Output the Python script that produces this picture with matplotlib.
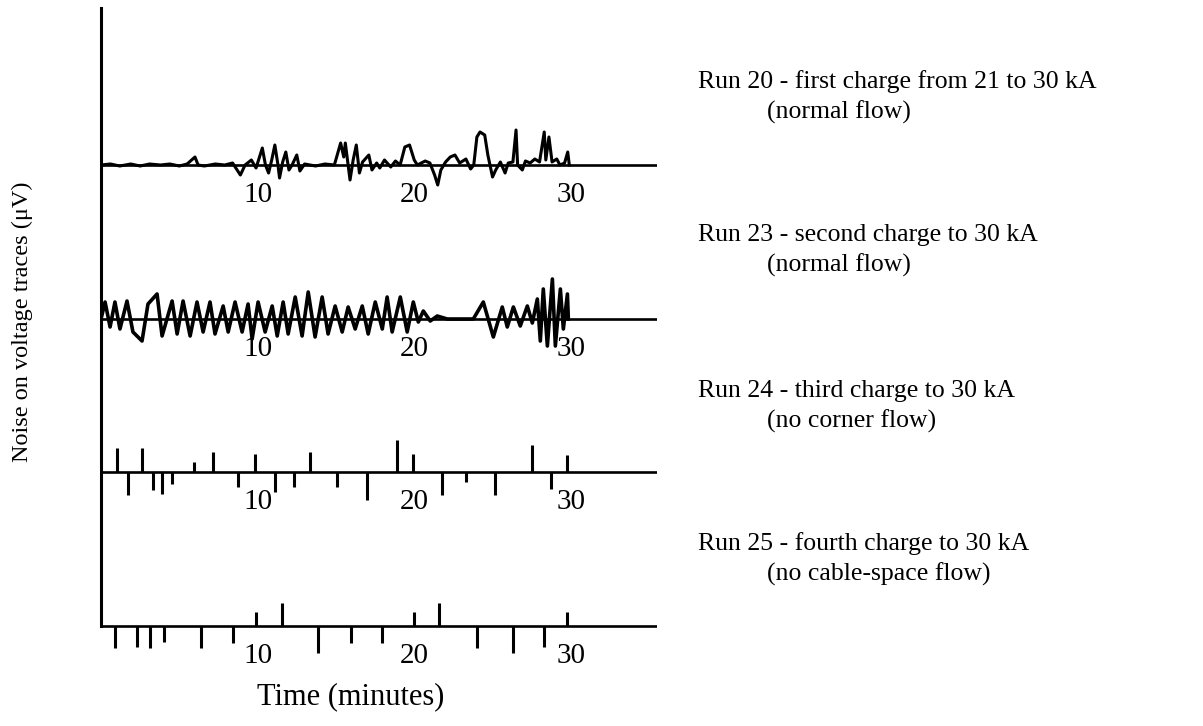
import matplotlib

matplotlib.use("Agg")

import matplotlib.pyplot as plt
import numpy as np

# time in minutes, noise amplitude in arbitrary trace units
run20_t = [0.0, 0.6, 1.2, 1.9, 2.5, 3.1, 3.8, 4.4, 5.0, 5.5, 6.0, 6.2, 6.6, 7.3,
           7.9, 8.4, 8.9, 9.2, 9.6, 9.9, 10.3, 10.5, 10.7, 10.9, 11.1, 11.3,
           11.4, 11.6, 11.8, 12.0, 12.2, 12.5, 12.7, 13.0, 13.7, 14.3, 14.9,
           15.3, 15.5, 15.6, 15.9, 16.1, 16.3, 16.5, 16.7, 17.1, 17.3, 17.6,
           17.8, 18.1, 18.5, 18.8, 19.1, 19.4, 19.7, 20.0, 20.2, 20.7, 21.0,
           21.3, 21.5, 21.7, 22.0, 22.3, 22.6, 22.9, 23.3, 23.6, 23.8, 24.0,
           24.2, 24.5, 24.7, 25.0, 25.2, 25.5, 25.8, 26.0, 26.3, 26.5, 26.6,
           26.9, 27.1, 27.4, 27.7, 28.0, 28.3, 28.4, 28.6, 28.8, 29.1, 29.3,
           29.6, 29.8, 29.9]
run20_v = [0, 1, -1, 1, -1, 1, 0, 1, -1, 1, 8, 0, -1, 1,
           0, 2, -10, 0, 5, -3, 17, 0, -8, 5, 20, 0,
           -13, 3, 13, -5, 0, 10, -6, 1, -1, 1, 0,
           22, 8, 22, -15, 5, 20, -8, 3, 10, -5, 2,
           -3, 5, -2, 4, 0, 18, 20, 5, 0, 4, 2,
           -10, -20, -5, 3, 8, 10, 2, 6, -4, 0, 28,
           33, 30, 10, -12, -5, 3, -8, 2, 3, 35, 0,
           -5, 4, 2, 6, 3, 33, 5, 28, 3, 6, 0,
           2, 13, 0]

run23_t = [0.0, 0.26, 0.58, 0.89, 1.21, 1.66, 2.04, 2.62, 3.00, 3.58, 3.90, 4.54,
           4.86, 5.24, 5.69, 6.13, 6.52, 6.96, 7.28, 7.80, 8.12, 8.56, 9.01,
           9.39, 9.65, 10.03, 10.48, 10.93, 11.25, 11.63, 11.95, 12.40, 12.84,
           13.23, 13.67, 14.12, 14.50, 14.95, 15.40, 15.78, 16.23, 16.68,
           17.06, 17.51, 17.96, 18.27, 18.59, 19.11, 19.55, 19.94, 20.26,
           20.58, 21.02, 21.47, 22.11, 23.77, 24.41, 25.05, 25.62, 25.94,
           26.33, 26.77, 27.22, 27.54, 27.86, 28.05, 28.24, 28.50, 28.82,
           29.01, 29.33, 29.52, 29.78, 29.84]
run23_v = [0, 17, -8, 17, -10, 18, -13, -22, 15, 25, -17, 18,
           -15, 18, -17, 17, -13, 17, -15, 13, -13, 17, -13,
           15, -20, 17, -13, 13, -17, 17, -15, 22, -17,
           27, -18, 22, -15, 13, -13, 12, -10, 13,
           -15, 17, -10, 22, -13, 22, -13, 17, -3,
           8, -2, 3, 0, 0, 17, -18, 12, -8,
           12, -7, 13, -4, 20, -22, 30, -27, 40,
           -27, 30, -10, 25, 0]

run24_t = [1.02, 1.73, 2.62, 3.32, 3.90, 4.54, 5.94, 7.16, 8.75, 9.84, 11.12,
           12.33, 13.35, 15.08, 17.0, 18.91, 19.94, 21.79, 23.32, 25.18, 27.54,
           28.75, 29.78]
run24_v = [24, -23, 24, -18, -22, -12, 10, 20, -15, 18, -20,
           -15, 20, -15, -28, 32, 18, -23, -10, -23, 27,
           -17, 17]

run25_t = [0.89, 2.30, 3.13, 4.03, 6.39, 8.43, 9.90, 11.57, 13.87, 15.97, 17.96,
           20.0, 21.6, 24.03, 26.33, 28.31, 29.78]
run25_v = [-22, -21, -22, -16, -22, -17, 14, 23, -27, -17, -17,
           14, 23, -22, -27, -21, 14]

labels_main = ["Run 20 - first charge from 21 to 30 kA",
               "Run 23 - second charge to 30 kA",
               "Run 24 - third charge to 30 kA",
               "Run 25 - fourth charge to 30 kA"]
labels_sub = ["(normal flow)", "(normal flow)", "(no corner flow)",
              "(no cable-space flow)"]
time_ticks = [10, 20, 30]

plt.rcParams["font.family"] = ["Liberation Serif", "DejaVu Serif"]

W, H = 1203, 726
fig = plt.figure(figsize=(W / 100, H / 100), dpi=100)
ax = fig.add_axes([101 / W, 1 - 671 / H, 556 / W, 663 / H])
ax.set_xlim(0, 35.5)
ax.set_ylim(-45, 618)
for side in ["top", "right", "bottom"]:
    ax.spines[side].set_visible(False)
ax.spines["left"].set_bounds(0, 618)
ax.spines["left"].set_linewidth(2.2)
ax.set_xticks([])
ax.set_yticks([])

# stacked baselines, top to bottom
offsets = [461, 307, 154, 0]
for base in offsets:
    ax.plot([0, 35.5], [base, base], color="black", lw=1.9, solid_capstyle="butt")
    for t in time_ticks:
        ax.text(t, base - 30, str(t), ha="center", va="center", fontsize=21, zorder=1)

ax.plot(run20_t, np.array(run20_v) + offsets[0], color="black", lw=2.2,
        solid_joinstyle="round", zorder=3)
ax.plot(run23_t, np.array(run23_v) + offsets[1], color="black", lw=2.6,
        solid_joinstyle="round", zorder=3)
ax.vlines(run24_t, offsets[2], np.array(run24_v) + offsets[2], color="black", lw=2.2, zorder=3)
ax.vlines(run25_t, offsets[3], np.array(run25_v) + offsets[3], color="black", lw=2.2, zorder=3)

main_y = [82, 235, 391, 544]
for label, sub, y in zip(labels_main, labels_sub, main_y):
    fig.text(698 / W, 1 - y / H, label, ha="left", va="center", fontsize=18.5)
    fig.text(767 / W, 1 - (y + 30) / H, sub, ha="left", va="center", fontsize=18.5)

fig.text(22 / W, 1 - 322 / H, "Noise on voltage traces (\u03bcV)", rotation=90,
         ha="center", va="center", fontsize=17.5)
fig.text(351 / W, 1 - 697 / H, "Time (minutes)", ha="center", va="center", fontsize=22)

fig.savefig("out.png", dpi=100)
plt.close(fig)
